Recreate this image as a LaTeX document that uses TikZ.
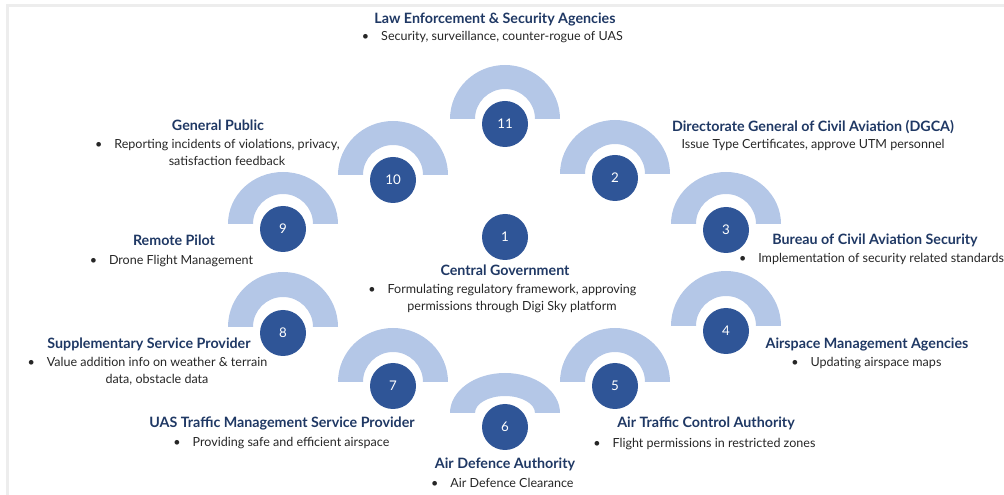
\documentclass[tikz,border=0pt]{standalone}
\usepackage{fontspec}
\setmainfont{Lato}
\usetikzlibrary{positioning}
\definecolor{navy}{HTML}{1F3864}
\definecolor{discblue}{HTML}{2F5597}
\definecolor{ringfill}{HTML}{B4C7E7}
\definecolor{framegray}{HTML}{EDEDED}
\definecolor{bodygray}{HTML}{262626}
\newcommand{\bul}{\llap{\textbullet\hspace{9pt}}}

\begin{document}
\begin{tikzpicture}[x=0.75pt, y=-0.75pt,
    disc/.style={circle, fill=discblue, minimum size=34.5pt, inner sep=0pt, text=white, font=\fontsize{10}{12}\selectfont},
    ring/.style={fill=ringfill},
    title/.style={inner sep=0pt, anchor=base, text=navy, font=\fontsize{10.7}{12}\selectfont\bfseries},
    desc/.style={inner sep=0pt, anchor=base, align=center, text=bodygray, font=\fontsize{9.4}{13}\selectfont}
]
\useasboundingbox (0,0) rectangle (1004,495);
% frame
\fill[framegray] (6,4) rectangle (1004,7);
\fill[framegray] (6,4) rectangle (9,495);

% rings and numbered discs
\foreach \n/\x/\y/\b/\ho/\hi in {11/505/124/119/54/30, 10/393/180/175/54/30, 2/615/178/174/54/30,
    9/283/229/224/52/30, 3/726/230/224/52/30, 8/283/333/327/55/30, 4/726/331/326/55/30,
    7/393/386/382/54/30, 5/615/386/382/54/30, 6/505/427/413/40/17}
{
  \fill[ring] (\x-55,\b) arc[start angle=180, end angle=360, x radius=55, y radius=\ho]
      -- (\x+30,\b) arc[start angle=360, end angle=180, x radius=30, y radius=\hi] -- cycle;
  \node[disc] (c\n) at (\x,\y) {\n};
}
\node[disc] (c1) at (505,237) {1};

% stakeholders (multi-line texts sit on their last baseline)
\node[title] (t1) at (505,276) {Central Government};
\node[desc] (d1) at (512,311) {\bul Formulating regulatory framework, approving\\permissions through Digi Sky platform};

\node[title] (t2) at (813,132) {Directorate General of Civil Aviation (DGCA)};
\node[desc] (d2) at (813,149) {Issue Type Certificates, approve UTM personnel};

\node[title] (t3) at (875,245) {Bureau of Civil Aviation Security};
\node[desc, anchor=base west] (d3) at (758,263) {\bul Implementation of security related standards};

\node[title] (t4) at (867,349) {Airspace Management Agencies};
\node[desc] (d4) at (876,367) {\bul Updating airspace maps};

\node[title] (t5) at (706,428) {Air Traffic Control Authority};
\node[desc] (d5) at (714,447) {\bul Flight permissions in restricted zones};

\node[title] (t6) at (505,469) {Air Defence Authority};
\node[desc] (d6) at (512,487) {\bul Air Defence Clearance};

\node[title] (t7) at (282,427) {UAS Traffic Management Service Provider};
\node[desc] (d7) at (291,446) {\bul Providing safe and efficient airspace};

\node[title] (t8) at (149,349) {Supplementary Service Provider};
\node[desc] (d8) at (157,384) {\bul Value addition info on weather \& terrain\\data, obstacle data};

\node[title] (t9) at (174,246) {Remote Pilot};
\node[desc] (d9) at (181,265) {\bul Drone Flight Management};

\node[title] (t10) at (218,131) {General Public};
\node[desc] (d10) at (227,166) {\bul Reporting incidents of violations, privacy,\\satisfaction feedback};

\node[title] (t11) at (495,24) {Law Enforcement \& Security Agencies};
\node[desc] (d11) at (502,41) {\bul Security, surveillance, counter-rogue of UAS};
\end{tikzpicture}
\end{document}
